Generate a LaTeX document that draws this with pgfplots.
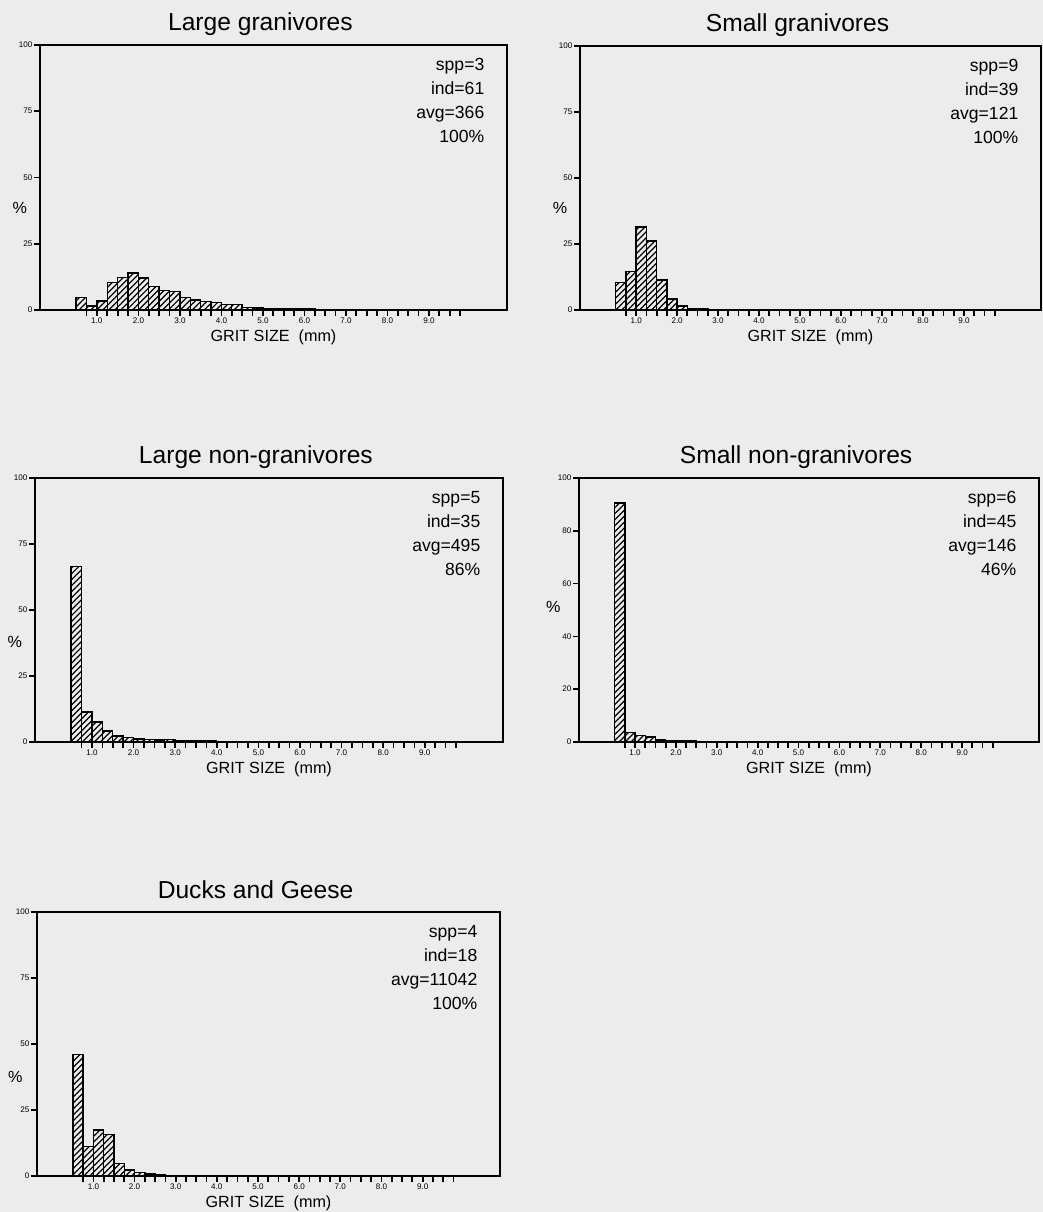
\documentclass[border=0pt]{standalone}
\usepackage{pgfplots}
\pgfplotsset{compat=1.18}
\usepackage{fontspec}
\setmainfont{Liberation Sans}
\usetikzlibrary{patterns.meta}
\definecolor{bg}{RGB}{236,236,236}
\tikzset{
  stats/.style={anchor=north east, align=right, inner sep=0pt,
    font=\fontsize{5}{6.8}\selectfont, xshift=-2.2mm, yshift=-1.3mm},
  gbar/.style={draw=black, line width=0.4pt, fill=none,
    pattern={Lines[angle=45,distance=1.2pt,line width=0.35pt]}, pattern color=black},
}
\pgfplotsset{
  grit/.style={
    scale only axis,
    xmin=-0.37, xmax=10.88,
    ymin=0, ymax=100,
    ytick={0,25,50,75,100},
    xtick={1,2,3,4,5,6,7,8,9},
    xticklabels={1.0,2.0,3.0,4.0,5.0,6.0,7.0,8.0,9.0},
    minor xtick={0.75,1.25,1.5,1.75,2.25,2.5,2.75,3.25,3.5,3.75,4.25,4.5,4.75,5.25,5.5,5.75,6.25,6.5,6.75,7.25,7.5,7.75,8.25,8.5,8.75,9.25,9.5,9.75},
    tick align=outside,
    ytick pos=left, xtick pos=bottom,
    major tick length=0.6mm, minor tick length=0.6mm,
    tick style={line width=0.5pt, black},
    axis line style={line width=0.6pt},
    every tick label/.style={font=\fontsize{2.3}{2.6}\selectfont, inner sep=0pt},
    xticklabel style={yshift=-0.15mm},
    yticklabel style={xshift=-0.1mm},
    /pgf/number format/assume math mode=true,
    title style={at={(axis description cs:0.472,1)}, anchor=base, yshift=-6pt, yshift=1.4mm, font=\fontsize{7}{8}\selectfont},
    xlabel={GRIT SIZE\ \ (mm)},
    xlabel style={at={(axis description cs:0.5,0)}, anchor=base, yshift=-3.2mm, font=\fontsize{4.6}{5}\selectfont},
    ylabel={\%},
    ylabel style={rotate=-90, anchor=center, font=\fontsize{4.6}{5}\selectfont},
    ybar, bar width=0.25, bar shift=0pt,
  },
}
\begin{document}
\begin{tikzpicture}
\fill[bg] (0,0) rectangle (10.43,12.12);

% Panel 1
\begin{axis}[grit, at={(0.40cm,9.02cm)}, anchor=south west,
  width=4.67cm, height=2.65cm, title={Large granivores},
  ylabel style={at={(axis description cs:-0.043,0.385)}}]
\addplot[gbar] coordinates {(0.625,4.8) (0.875,1.5) (1.125,3.4) (1.375,10.4) (1.625,12.2) (1.875,13.9) (2.125,12.0) (2.375,8.8) (2.625,7.3) (2.875,6.9) (3.125,4.7) (3.375,3.8) (3.625,3.2) (3.875,2.8) (4.125,2.1) (4.375,2.1) (4.625,1.0) (4.875,0.8) (5.125,0.6) (5.375,0.5) (5.625,0.4) (5.875,0.3) (6.125,0.3) (6.375,0.2) (6.625,0.2) (6.875,0.1)};
\node[stats] at (rel axis cs:1,1) {spp=3\\ind=61\\avg=366\\100\%};
\end{axis}

% Panel 2
\begin{axis}[grit, at={(5.80cm,9.02cm)}, anchor=south west,
  width=4.61cm, height=2.64cm, title={Small granivores},
  ylabel style={at={(axis description cs:-0.043,0.385)}}]
\addplot[gbar] coordinates {(0.625,10.5) (0.875,14.5) (1.125,31.4) (1.375,26.1) (1.625,11.4) (1.875,4.2) (2.125,1.5) (2.375,0.6) (2.625,0.3)};
\node[stats] at (rel axis cs:1,1) {spp=9\\ind=39\\avg=121\\100\%};
\end{axis}

% Panel 3
\begin{axis}[grit, at={(0.35cm,4.70cm)}, anchor=south west,
  width=4.68cm, height=2.64cm, title={Large non-granivores},
  ylabel style={at={(axis description cs:-0.043,0.38)}}]
\addplot[gbar] coordinates {(0.625,66.5) (0.875,11.4) (1.125,7.5) (1.375,4.2) (1.625,2.3) (1.875,1.6) (2.125,1.1) (2.375,0.9) (2.625,0.8) (2.875,0.9) (3.125,0.6) (3.375,0.5) (3.625,0.6) (3.875,0.4) (4.125,0.3) (4.375,0.3) (4.625,0.3) (4.875,0.2) (5.125,0.2) (5.375,0.2) (5.625,0.1) (5.875,0.1) (6.125,0.1) (6.375,0.1) (6.625,0.1)};
\node[stats] at (rel axis cs:1,1) {spp=5\\ind=35\\avg=495\\86\%};
\end{axis}

% Panel 4
\begin{axis}[grit, at={(5.79cm,4.70cm)}, anchor=south west,
  width=4.60cm, height=2.64cm, title={Small non-granivores},
  ytick={0,20,40,60,80,100},
  ylabel style={at={(axis description cs:-0.056,0.51)}}]
\addplot[gbar] coordinates {(0.625,90.5) (0.875,3.5) (1.125,2.5) (1.375,1.9) (1.625,0.8) (1.875,0.6) (2.125,0.5) (2.375,0.4) (2.625,0.3) (2.875,0.2) (3.125,0.1)};
\node[stats] at (rel axis cs:1,1) {spp=6\\ind=45\\avg=146\\46\%};
\end{axis}

% Panel 5
\begin{axis}[grit, at={(0.37cm,0.36cm)}, anchor=south west,
  width=4.63cm, height=2.64cm, title={Ducks and Geese},
  ylabel style={at={(axis description cs:-0.047,0.375)}}]
\addplot[gbar] coordinates {(0.625,46.0) (0.875,11.1) (1.125,17.4) (1.375,15.8) (1.625,4.8) (1.875,2.3) (2.125,1.4) (2.375,0.8) (2.625,0.6) (2.875,0.3) (3.125,0.2)};
\node[stats] at (rel axis cs:1,1) {spp=4\\ind=18\\avg=11042\\100\%};
\end{axis}
\pgfresetboundingbox
\path[use as bounding box] (0,0) rectangle (10.43,12.12);
\end{tikzpicture}
\end{document}
